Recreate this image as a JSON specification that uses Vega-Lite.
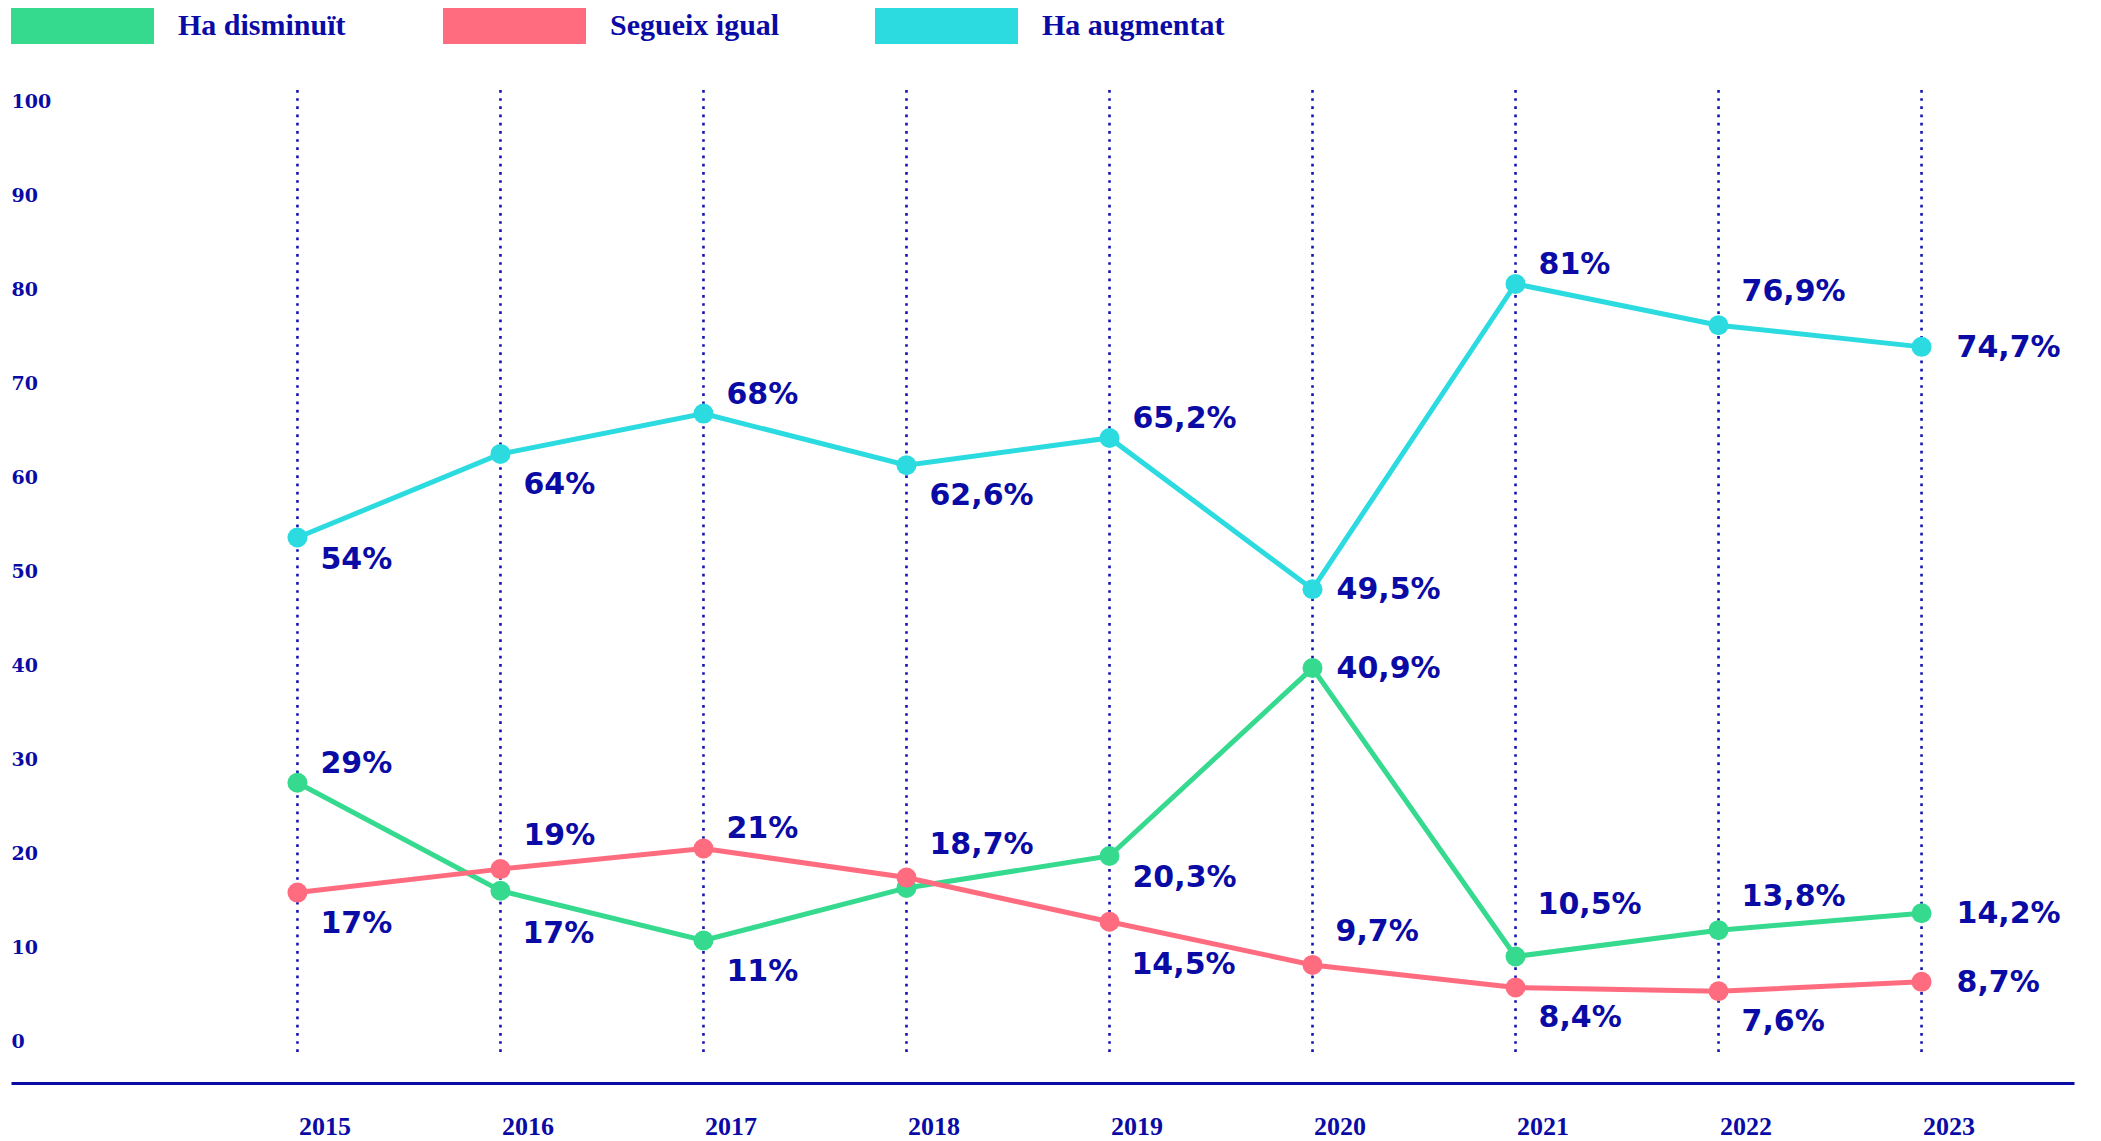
{
  "$schema": "https://vega.github.io/schema/vega-lite/v6.json",
  "width": 2063,
  "height": 1023,
  "autosize": {"type": "none"},
  "padding": {"left": 11, "top": 60, "right": 27, "bottom": 58},
  "background": "white",
  "config": {"view": {"stroke": null}},
  "data": {
    "values": [
      {"year": 2015, "series": "Ha augmentat", "value": 53.6, "label": "54%"},
      {"year": 2016, "series": "Ha augmentat", "value": 62.5, "label": "64%"},
      {"year": 2017, "series": "Ha augmentat", "value": 66.8, "label": "68%"},
      {"year": 2018, "series": "Ha augmentat", "value": 61.3, "label": "62,6%"},
      {"year": 2019, "series": "Ha augmentat", "value": 64.2, "label": "65,2%"},
      {"year": 2020, "series": "Ha augmentat", "value": 48.1, "label": "49,5%"},
      {"year": 2021, "series": "Ha augmentat", "value": 80.6, "label": "81%"},
      {"year": 2022, "series": "Ha augmentat", "value": 76.2, "label": "76,9%"},
      {"year": 2023, "series": "Ha augmentat", "value": 73.9, "label": "74,7%"},
      {"year": 2015, "series": "Ha disminuït", "value": 27.5, "label": "29%"},
      {"year": 2016, "series": "Ha disminuït", "value": 16.0, "label": "17%"},
      {"year": 2017, "series": "Ha disminuït", "value": 10.7, "label": "11%"},
      {"year": 2018, "series": "Ha disminuït", "value": 16.3, "label": ""},
      {"year": 2019, "series": "Ha disminuït", "value": 19.7, "label": "20,3%"},
      {"year": 2020, "series": "Ha disminuït", "value": 39.7, "label": "40,9%"},
      {"year": 2021, "series": "Ha disminuït", "value": 9.0, "label": "10,5%"},
      {"year": 2022, "series": "Ha disminuït", "value": 11.8, "label": "13,8%"},
      {"year": 2023, "series": "Ha disminuït", "value": 13.6, "label": "14,2%"},
      {"year": 2015, "series": "Segueix igual", "value": 15.8, "label": "17%"},
      {"year": 2016, "series": "Segueix igual", "value": 18.3, "label": "19%"},
      {"year": 2017, "series": "Segueix igual", "value": 20.5, "label": "21%"},
      {"year": 2018, "series": "Segueix igual", "value": 17.4, "label": "18,7%"},
      {"year": 2019, "series": "Segueix igual", "value": 12.7, "label": "14,5%"},
      {"year": 2020, "series": "Segueix igual", "value": 8.1, "label": "9,7%"},
      {"year": 2021, "series": "Segueix igual", "value": 5.7, "label": "8,4%"},
      {"year": 2022, "series": "Segueix igual", "value": 5.3, "label": "7,6%"},
      {"year": 2023, "series": "Segueix igual", "value": 6.3, "label": "8,7%"}
    ]
  },
  "layer": [
    {
      "data": {"values": [{"year": 2015}, {"year": 2016}, {"year": 2017}, {"year": 2018}, {"year": 2019}, {"year": 2020}, {"year": 2021}, {"year": 2022}, {"year": 2023}]},
      "mark": {"type": "rule", "color": "#1414b4", "strokeWidth": 2.6, "strokeDash": [2.7, 5.5], "strokeCap": "butt"},
      "encoding": {
        "x": {"field": "year", "type": "quantitative", "scale": {"domain": [2013.589, 2023.751], "nice": false, "zero": false}, "axis": {"title": null}},
        "y": {"datum": 101.25, "type": "quantitative", "scale": {"domain": [-4.47, 104.44], "nice": false, "zero": false}, "axis": {"title": null}},
        "y2": {"datum": -1.17}
      }
    },
    {
      "mark": {"type": "line", "strokeWidth": 5},
      "encoding": {
        "x": {
          "field": "year", "type": "quantitative",
          "scale": {"domain": [2013.589, 2023.751], "nice": false, "zero": false},
          "axis": {
            "title": null, "values": [2015, 2016, 2017, 2018, 2019, 2020, 2021, 2022, 2023], "format": "d",
            "ticks": false, "tickSize": 0, "grid": false, "labelFlush": false, "labelOverlap": false,
            "labelOffset": 27, "labelPadding": 43, "labelBaseline": "middle",
            "labelFont": "Liberation Serif", "labelFontWeight": "bold", "labelFontSize": 26, "labelColor": "#0a0aa5",
            "domain": true, "domainColor": "#0a0aa5", "domainWidth": 3
          }
        },
        "y": {
          "field": "value", "type": "quantitative",
          "scale": {"domain": [-4.47, 104.44], "nice": false, "zero": false},
          "axis": {
            "title": null, "values": [0, 10, 20, 30, 40, 50, 60, 70, 80, 90, 100],
            "ticks": false, "tickSize": 0, "grid": false, "domain": false, "labelFlush": false, "labelOverlap": false,
            "labelAlign": "left", "labelPadding": 0, "labelBaseline": "middle",
            "labelFont": "DejaVu Serif", "labelFontWeight": "bold", "labelFontSize": 19, "labelColor": "#0a0aa5"
          }
        },
        "color": {
          "field": "series", "type": "nominal",
          "scale": {"domain": ["Ha disminuït", "Segueix igual", "Ha augmentat"], "range": ["#35da8f", "#ff6c7f", "#2bdbe0"]},
          "legend": {
            "title": null, "orient": "none", "legendX": 0, "legendY": -52, "direction": "horizontal", "columns": 3,
            "gridAlign": "all", "columnPadding": 82, "padding": 0, "clipHeight": 36,
            "symbolType": "M-1,-0.252H1V0.252H-1Z", "symbolSize": 20449, "symbolStrokeWidth": 0, "symbolOpacity": 1,
            "labelFont": "Liberation Serif", "labelFontWeight": "bold", "labelFontSize": 30, "labelColor": "#0a0aa5",
            "labelOffset": 24, "labelLimit": 400,
            "encode": {"symbols": {"update": {"fill": {"scale": "color", "field": "value"}, "stroke": {"value": "transparent"}, "opacity": {"value": 1}}}}
          }
        }
      }
    },
    {
      "mark": {"type": "point", "filled": true, "size": 400, "opacity": 1},
      "encoding": {
        "x": {"field": "year", "type": "quantitative", "scale": {"domain": [2013.589, 2023.751], "nice": false, "zero": false}, "axis": {"title": null}},
        "y": {"field": "value", "type": "quantitative", "scale": {"domain": [-4.47, 104.44], "nice": false, "zero": false}, "axis": {"title": null}},
        "color": {
          "field": "series", "type": "nominal",
          "scale": {"domain": ["Ha disminuït", "Segueix igual", "Ha augmentat"], "range": ["#35da8f", "#ff6c7f", "#2bdbe0"]},
          "legend": {"title": null}
        }
      }
    },
    {
      "transform": [{"filter": "indexof(['2017|Ha augmentat','2015|Ha disminuït','2021|Ha augmentat','2019|Ha augmentat','2017|Segueix igual'], datum.year + '|' + datum.series) >= 0"}],
      "mark": {"type": "text", "align": "left", "baseline": "middle", "dx": 23, "dy": -19, "font": "DejaVu Sans", "fontWeight": "bold", "fontSize": 30, "color": "#0a0aa5"},
      "encoding": {
        "x": {"field": "year", "type": "quantitative", "scale": {"domain": [2013.589, 2023.751], "nice": false, "zero": false}, "axis": {"title": null}},
        "y": {"field": "value", "type": "quantitative", "scale": {"domain": [-4.47, 104.44], "nice": false, "zero": false}, "axis": {"title": null}},
        "text": {"field": "label"}
      }
    },
    {
      "transform": [{"filter": "indexof(['2016|Segueix igual','2022|Ha augmentat','2022|Ha disminuït','2020|Segueix igual','2018|Segueix igual'], datum.year + '|' + datum.series) >= 0"}],
      "mark": {"type": "text", "align": "left", "baseline": "middle", "dx": 23, "dy": -33, "font": "DejaVu Sans", "fontWeight": "bold", "fontSize": 30, "color": "#0a0aa5"},
      "encoding": {
        "x": {"field": "year", "type": "quantitative", "scale": {"domain": [2013.589, 2023.751], "nice": false, "zero": false}, "axis": {"title": null}},
        "y": {"field": "value", "type": "quantitative", "scale": {"domain": [-4.47, 104.44], "nice": false, "zero": false}, "axis": {"title": null}},
        "text": {"field": "label"}
      }
    },
    {
      "transform": [{"filter": "indexof(['2021|Ha disminuït'], datum.year + '|' + datum.series) >= 0"}],
      "mark": {"type": "text", "align": "left", "baseline": "middle", "dx": 22, "dy": -51, "font": "DejaVu Sans", "fontWeight": "bold", "fontSize": 30, "color": "#0a0aa5"},
      "encoding": {
        "x": {"field": "year", "type": "quantitative", "scale": {"domain": [2013.589, 2023.751], "nice": false, "zero": false}, "axis": {"title": null}},
        "y": {"field": "value", "type": "quantitative", "scale": {"domain": [-4.47, 104.44], "nice": false, "zero": false}, "axis": {"title": null}},
        "text": {"field": "label"}
      }
    },
    {
      "transform": [{"filter": "indexof(['2015|Ha augmentat','2019|Ha disminuït'], datum.year + '|' + datum.series) >= 0"}],
      "mark": {"type": "text", "align": "left", "baseline": "middle", "dx": 23, "dy": 22, "font": "DejaVu Sans", "fontWeight": "bold", "fontSize": 30, "color": "#0a0aa5"},
      "encoding": {
        "x": {"field": "year", "type": "quantitative", "scale": {"domain": [2013.589, 2023.751], "nice": false, "zero": false}, "axis": {"title": null}},
        "y": {"field": "value", "type": "quantitative", "scale": {"domain": [-4.47, 104.44], "nice": false, "zero": false}, "axis": {"title": null}},
        "text": {"field": "label"}
      }
    },
    {
      "transform": [{"filter": "indexof(['2016|Ha augmentat','2018|Ha augmentat','2017|Ha disminuït','2015|Segueix igual','2021|Segueix igual','2022|Segueix igual'], datum.year + '|' + datum.series) >= 0"}],
      "mark": {"type": "text", "align": "left", "baseline": "middle", "dx": 23, "dy": 31, "font": "DejaVu Sans", "fontWeight": "bold", "fontSize": 30, "color": "#0a0aa5"},
      "encoding": {
        "x": {"field": "year", "type": "quantitative", "scale": {"domain": [2013.589, 2023.751], "nice": false, "zero": false}, "axis": {"title": null}},
        "y": {"field": "value", "type": "quantitative", "scale": {"domain": [-4.47, 104.44], "nice": false, "zero": false}, "axis": {"title": null}},
        "text": {"field": "label"}
      }
    },
    {
      "transform": [{"filter": "indexof(['2019|Segueix igual','2016|Ha disminuït'], datum.year + '|' + datum.series) >= 0"}],
      "mark": {"type": "text", "align": "left", "baseline": "middle", "dx": 22, "dy": 43, "font": "DejaVu Sans", "fontWeight": "bold", "fontSize": 30, "color": "#0a0aa5"},
      "encoding": {
        "x": {"field": "year", "type": "quantitative", "scale": {"domain": [2013.589, 2023.751], "nice": false, "zero": false}, "axis": {"title": null}},
        "y": {"field": "value", "type": "quantitative", "scale": {"domain": [-4.47, 104.44], "nice": false, "zero": false}, "axis": {"title": null}},
        "text": {"field": "label"}
      }
    },
    {
      "transform": [{"filter": "indexof(['2020|Ha augmentat','2020|Ha disminuït'], datum.year + '|' + datum.series) >= 0"}],
      "mark": {"type": "text", "align": "left", "baseline": "middle", "dx": 24, "dy": 1, "font": "DejaVu Sans", "fontWeight": "bold", "fontSize": 30, "color": "#0a0aa5"},
      "encoding": {
        "x": {"field": "year", "type": "quantitative", "scale": {"domain": [2013.589, 2023.751], "nice": false, "zero": false}, "axis": {"title": null}},
        "y": {"field": "value", "type": "quantitative", "scale": {"domain": [-4.47, 104.44], "nice": false, "zero": false}, "axis": {"title": null}},
        "text": {"field": "label"}
      }
    },
    {
      "transform": [{"filter": "indexof(['2023|Ha augmentat','2023|Ha disminuït','2023|Segueix igual'], datum.year + '|' + datum.series) >= 0"}],
      "mark": {"type": "text", "align": "left", "baseline": "middle", "dx": 35, "dy": 1, "font": "DejaVu Sans", "fontWeight": "bold", "fontSize": 30, "color": "#0a0aa5"},
      "encoding": {
        "x": {"field": "year", "type": "quantitative", "scale": {"domain": [2013.589, 2023.751], "nice": false, "zero": false}, "axis": {"title": null}},
        "y": {"field": "value", "type": "quantitative", "scale": {"domain": [-4.47, 104.44], "nice": false, "zero": false}, "axis": {"title": null}},
        "text": {"field": "label"}
      }
    }
  ]
}
